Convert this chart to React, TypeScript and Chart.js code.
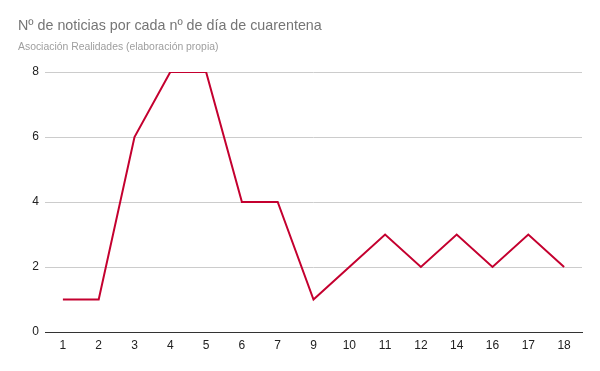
import React, { useEffect, useRef } from "react";
import { Chart, registerables } from "chart.js";

Chart.register(...registerables);

const categories = ["1", "2", "3", "4", "5", "6", "7", "9", "10", "11", "12", "14", "16", "17", "18"];
const noticias = [1, 1, 6, 8, 8, 4, 4, 1, 2, 3, 2, 3, 2, 3, 2];
const yTicks = [0, 2, 4, 6, 8];
const titleText = "Nº de noticias por cada nº de día de cuarentena";
const subtitleText = "Asociación Realidades (elaboración propia)";

const titlePlugin = {
  id: "customTitles",
  afterDraw(chart: any) {
    const ctx = chart.ctx;
    ctx.save();
    ctx.textAlign = "left";
    ctx.textBaseline = "alphabetic";
    ctx.fillStyle = "#757575";
    ctx.font = "14.3px Arial, 'Liberation Sans', sans-serif";
    ctx.fillText(titleText, 18, 30);
    ctx.fillStyle = "#9e9e9e";
    ctx.font = "10.4px Arial, 'Liberation Sans', sans-serif";
    ctx.fillText(subtitleText, 18, 50);
    ctx.restore();
  },
};

export default function App() {
  const ref = useRef<HTMLCanvasElement>(null);
  useEffect(() => {
    document.body.style.margin = "0";
    const chart = new Chart(ref.current as HTMLCanvasElement, {
      type: "line",
      data: {
        labels: categories,
        datasets: [
          {
            data: noticias,
            borderColor: "#c4002f",
            borderWidth: 2,
            pointRadius: 0,
            tension: 0,
            fill: false,
          },
        ],
      },
      options: {
        responsive: false,
        animation: false,
        layout: { padding: { top: 72, right: 18, bottom: 0, left: 0 } },
        plugins: {
          legend: { display: false },
          title: { display: false },
          tooltip: { enabled: false },
        },
        scales: {
          x: {
            offset: true,
            grid: { display: false, drawTicks: false },
            border: { display: true, color: "#333333", width: 1 },
            ticks: {
              padding: 6,
              color: "#222222",
              font: { family: "Arial, 'Liberation Sans', sans-serif", size: 12 },
              maxRotation: 0,
              autoSkip: false,
            },
            afterFit(scale: any) {
              scale.height = 39;
            },
          },
          y: {
            min: 0,
            max: 8,
            afterBuildTicks(scale: any) {
              scale.ticks = yTicks.map((v) => ({ value: v }));
            },
            grid: { color: "#cccccc", drawTicks: false, lineWidth: 1 },
            border: { display: false },
            ticks: {
              padding: 6,
              color: "#222222",
              font: { family: "Arial, 'Liberation Sans', sans-serif", size: 12 },
            },
            afterFit(scale: any) {
              scale.width = 45;
            },
          },
        },
      },
      plugins: [titlePlugin],
    });
    return () => chart.destroy();
  }, []);
  return (
    <div style={{ width: 600, height: 371 }}>
      <canvas ref={ref} width={600} height={371} style={{ display: "block" }} />
    </div>
  );
}
